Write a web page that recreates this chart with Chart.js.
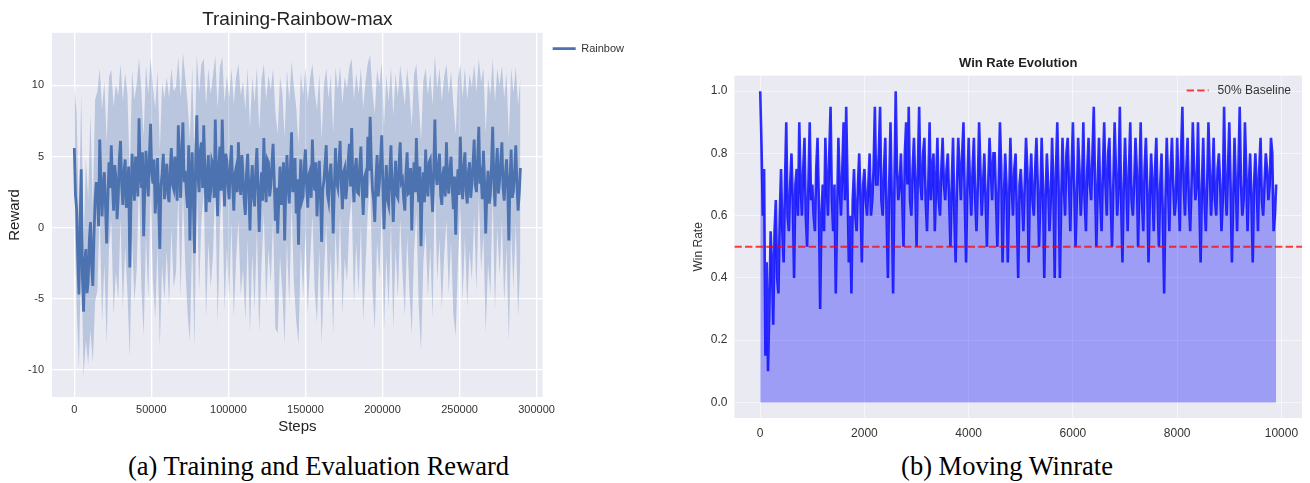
<!DOCTYPE html>
<html>
<head>
<meta charset="utf-8">
<script src="https://cdn.jsdelivr.net/npm/chart.js@4.4.1/dist/chart.umd.min.js"></script>
<style>
  body { margin: 0; background: #fff; width: 1310px; height: 483px; overflow: hidden; position: relative; }
  canvas { position: absolute; top: 0; }
  #rewardChart { left: 0; }
  #winChart { left: 660px; }
  .caption { position: absolute; top: 452px; font-family: 'Liberation Serif', 'Times New Roman', serif; font-size: 26.5px; line-height: 28px; text-align: center; color: #000; white-space: nowrap; }
</style>
</head>
<body>
<canvas id="rewardChart" width="650" height="440"></canvas>
<canvas id="winChart" width="650" height="440"></canvas>
<div class="caption" style="left:0;width:637px;">(a) Training and Evaluation Reward</div>
<div class="caption" style="left:807px;width:400px;">(b) Moving Winrate</div>
<script>
// Reward curve (left): one value every 750 steps
var rewardStepInterval = 750;
var rewardMean = [
    5.6, 2.3, 1.3, -2.2, -4.7, 0.2, 4.1, -3.5, -5.9, -2.4, -1.5, -4.6, -3.8, -0.9, 0.4, -2.7, -4.1, -0.6, 1.9, 3.2,
    2.6, 0.1, 6.2, 3.4, 0.8, 2.9, 3.9, 1.5, -1.1, 2.0, 4.6, 2.8, 5.8, 3.1, 1.2, 4.4, 3.5, 0.6, 2.1, 4.9,
    6.1, 3.0, 1.6, 3.9, 4.8, 1.4, 2.4, 4.3, -2.8, 1.7, 5.2, 3.3, 1.9, 5.0, 3.6, 2.2, 7.7, 4.1, 2.8, 5.3,
    -0.6, 2.7, 5.4, 3.6, 2.2, 5.1, 7.3, 3.9, 3.1, 4.8, 1.0, 2.5, 4.9, 1.6, -1.5, 2.9, 3.8, 5.2, 2.0, 3.4,
    4.5, 2.3, 1.8, 4.2, 5.6, 3.0, 2.7, 5.0, 3.4, 1.9, 7.2, 4.4, 2.1, 5.5, 7.4, 3.2, 4.0, 2.4, 1.4, 5.8,
    -0.9, 3.1, 5.3, 2.0, -1.8, 4.6, 7.9, 3.7, 2.5, 5.4, 6.0, 2.8, 7.2, 4.0, 1.1, 3.6, 5.1, 1.8, 2.6, 4.7,
    4.4, 2.1, 7.6, 3.5, 0.8, 4.3, 5.7, 2.6, 7.6, 4.1, 1.5, 5.2, 4.7, 2.9, 2.0, 4.5, 5.8, 3.0, 1.2, 3.8,
    4.2, 2.5, 6.0, 3.4, 2.3, 5.1, 3.7, 1.9, 0.9, 3.8, 5.2, 2.6, -0.2, 3.1, 4.4, 2.2, 1.5, 4.0, 5.6, 2.7,
    -0.3, 2.4, 3.9, 1.9, 6.3, 3.6, 1.8, 4.8, 4.6, 2.2, 2.9, 4.5, 5.9, 3.3, 0.5, 2.8, -0.4, 2.0, 4.3, 1.6,
    2.5, 4.6, -0.9, 2.7, 5.1, 3.0, 1.7, 4.2, 6.7, 2.5, 3.0, 4.9, 1.0, 3.4, -1.2, 2.6, 4.8, 1.9, 2.2, 4.4,
    5.5, 2.9, 1.4, 3.7, 4.0, 2.1, 6.2, 3.5, 2.6, 4.6, 0.8, 2.9, 4.7, 2.3, -1.0, 2.7, 3.3, 4.5, 5.8, 2.4,
    1.9, 3.8, 4.5, 2.6, -0.4, 2.8, 5.6, 3.2, 2.8, 4.4, 6.1, 3.0, 1.3, 3.9, 4.2, 2.0, 3.0, 4.7, 5.9, 2.9,
    7.0, 3.3, 1.8, 4.1, 4.9, 2.5, 2.4, 4.4, 5.7, 2.8, 0.9, 3.5, 3.8, 2.1, 6.4, 4.0, 7.8, 4.6, 2.7, 1.9,
    0.4, 3.4, 5.1, 2.2, 3.2, 4.8, 6.5, 3.1, -0.1, 2.6, 4.4, 2.0, 1.6, 3.9, 5.8, 2.6, 0.4, 3.0, 4.7, 2.3,
    2.1, 4.5, 6.0, 3.2, 3.4, 2.0, 1.2, 3.9, 5.3, 2.4, 2.5, 4.2, -0.2, 2.9, 4.6, 2.5, 6.3, 3.4, 1.8, 4.3,
    -1.3, 2.6, 3.9, 1.8, 5.5, 3.0, 2.2, 4.6, 4.8, 2.7, 1.1, 4.0, 7.6, 3.7, 3.0, 4.4, 5.2, 2.3, 1.6, 3.8,
    4.3, 2.2, 6.0, 3.3, 2.4, 4.1, 5.0, 2.8, 1.3, 3.6, -0.5, 2.7, 4.1, 2.3, 6.4, 3.5, 2.0, 4.2, 5.3, 2.6,
    1.7, 3.9, 4.6, 2.1, 3.1, 4.5, 6.2, 3.0, 2.5, 4.8, 7.1, 3.1, 3.6, 2.0, 5.4, 3.2, -0.4, 2.5, 4.0, 1.7,
    2.3, 4.4, 7.1, 3.4, 1.5, 4.1, 5.6, 2.4, 3.3, 4.7, 6.0, 2.8, 1.9, 3.7, 4.8, 2.9, -0.9, 3.3, 5.5, 2.1,
    2.6, 4.0, 5.8, 3.1, 1.2, 2.4, 4.2
];
// shaded band: half width around the mean, one value every 1500 steps
var bandStepInterval = 1500;
var rewardSpread = [
    4.4, 6.8, 5.2, 5.3, 4.6, 6.4, 5.8, 7.6, 5.4, 7.1,
    7.0, 5.0, 7.5, 6.4, 7.1, 6.0, 5.3, 7.3, 6.6, 7.2,
    5.4, 7.3, 6.1, 7.0, 6.3, 5.9, 7.1, 6.5, 4.2, 6.9,
    7.0, 6.0, 7.2, 4.6, 6.8, 7.4, 6.2, 6.9, 6.4, 7.1,
    6.1, 7.3, 5.6, 6.9, 6.5, 4.8, 7.0, 4.9, 6.6, 7.4,
    7.1, 6.0, 6.6, 4.3, 7.0, 5.5, 4.7, 7.5, 6.1, 6.8,
    6.3, 4.5, 7.6, 5.6, 4.4, 7.3, 6.0, 7.1, 5.4, 7.5,
    6.4, 5.5, 7.0, 6.6, 7.4, 6.0, 7.2, 6.2, 7.3, 5.7,
    7.1, 6.5, 5.2, 7.2, 6.1, 6.8, 5.3, 7.6, 7.0, 6.3,
    7.0, 7.3, 6.0, 7.2, 5.0, 6.9, 7.5, 7.0, 6.1, 7.1,
    5.8, 7.4, 6.5, 5.3, 7.0, 7.5, 6.1, 7.2, 6.7, 5.4,
    7.2, 6.2, 7.1, 5.7, 6.9, 5.2, 7.4, 6.4, 6.8, 5.4,
    4.9, 7.2, 6.0, 7.0, 5.5, 7.5, 6.5, 5.2, 4.3, 6.9,
    7.6, 6.0, 6.8, 5.1, 7.2, 6.3, 7.3, 5.5, 7.5, 6.1,
    7.1, 5.4, 6.6, 7.4, 5.9, 7.0, 7.3, 6.2, 5.2, 7.2,
    7.4, 6.4, 5.7, 7.1, 6.1, 7.5, 4.5, 6.8, 6.0, 7.3,
    6.3, 5.5, 7.0, 6.0, 7.4, 7.1, 6.4, 5.1, 7.1, 5.9,
    7.3, 6.2, 6.8, 5.3, 7.0, 4.8, 6.6, 5.8, 7.0, 6.5,
    7.0, 4.8, 7.3, 5.6, 6.7, 5.4, 7.2, 6.1, 7.1, 5.7,
    6.9, 5.5, 7.4, 6.4
];
var rewardXTicks = [0, 50000, 100000, 150000, 200000, 250000, 300000];
var rewardYTicks = [-10, -5, 0, 5, 10];

// Moving win rate (right): one value every 25 games
var winStepInterval = 25;
var winRate = [
    1.0, 0.83, 0.6, 0.75, 0.15, 0.45, 0.1, 0.3, 0.55, 0.45, 0.25, 0.55, 0.65, 0.4, 0.35, 0.6, 0.75, 0.55, 0.45, 0.7,
    0.9, 0.6, 0.55, 0.7, 0.8, 0.65, 0.4, 0.7, 0.75, 0.6, 0.9, 0.7, 0.6, 0.75, 0.85, 0.6, 0.5, 0.7, 0.9, 0.65,
    0.7, 0.6, 0.55, 0.75, 0.85, 0.65, 0.3, 0.6, 0.7, 0.55, 0.85, 0.7, 0.6, 0.8, 0.95, 0.65, 0.55, 0.7, 0.35, 0.6,
    0.85, 0.7, 0.6, 0.75, 0.9, 0.65, 0.95, 0.7, 0.45, 0.6, 0.35, 0.65, 0.75, 0.6, 0.55, 0.7, 0.8, 0.65, 0.45, 0.7,
    0.75, 0.65, 0.6, 0.7, 0.8, 0.6, 0.65, 0.75, 0.95, 0.7, 0.7, 0.8, 0.95, 0.65, 0.6, 0.75, 0.85, 0.6, 0.4, 0.7,
    0.9, 0.65, 0.35, 0.7, 1.0, 0.75, 0.65, 0.7, 0.8, 0.65, 0.5, 0.8, 0.9, 0.7, 0.95, 0.65, 0.6, 0.75, 0.85, 0.7,
    0.5, 0.75, 0.95, 0.7, 0.65, 0.8, 0.85, 0.65, 0.55, 0.7, 0.9, 0.65, 0.75, 0.8, 0.55, 0.7, 0.85, 0.65, 0.6, 0.75,
    0.85, 0.7, 0.65, 0.75, 0.8, 0.65, 0.5, 0.7, 0.85, 0.6, 0.45, 0.7, 0.85, 0.75, 0.65, 0.8, 0.9, 0.65, 0.45, 0.7,
    0.85, 0.7, 0.6, 0.75, 0.85, 0.65, 0.55, 0.7, 0.9, 0.75, 0.6, 0.7, 0.8, 0.65, 0.5, 0.7, 0.85, 0.75, 0.65, 0.8,
    0.8, 0.65, 0.5, 0.7, 0.9, 0.75, 0.45, 0.65, 0.8, 0.7, 0.45, 0.65, 0.85, 0.7, 0.6, 0.75, 0.8, 0.6, 0.4, 0.7,
    0.75, 0.65, 0.55, 0.7, 0.85, 0.75, 0.45, 0.7, 0.8, 0.65, 0.6, 0.75, 0.85, 0.7, 0.5, 0.65, 0.85, 0.7, 0.4, 0.65,
    0.8, 0.7, 0.55, 0.65, 0.85, 0.7, 0.4, 0.75, 0.9, 0.7, 0.4, 0.65, 0.85, 0.7, 0.6, 0.8, 0.85, 0.7, 0.55, 0.75,
    0.9, 0.7, 0.5, 0.65, 0.85, 0.75, 0.6, 0.7, 0.9, 0.65, 0.55, 0.75, 0.85, 0.7, 0.65, 0.8, 0.95, 0.7, 0.5, 0.7,
    0.85, 0.65, 0.55, 0.75, 0.9, 0.7, 0.6, 0.8, 0.85, 0.65, 0.5, 0.7, 0.9, 0.75, 0.6, 0.7, 0.95, 0.65, 0.45, 0.7,
    0.85, 0.7, 0.55, 0.75, 0.9, 0.65, 0.6, 0.7, 0.85, 0.75, 0.5, 0.7, 0.9, 0.65, 0.55, 0.75, 0.85, 0.7, 0.45, 0.65,
    0.8, 0.7, 0.55, 0.75, 0.85, 0.65, 0.5, 0.7, 0.8, 0.6, 0.35, 0.65, 0.85, 0.7, 0.55, 0.75, 0.85, 0.7, 0.6, 0.65,
    0.85, 0.7, 0.55, 0.8, 0.95, 0.7, 0.6, 0.75, 0.85, 0.65, 0.55, 0.7, 0.9, 0.75, 0.65, 0.7, 0.9, 0.65, 0.45, 0.7,
    0.85, 0.65, 0.55, 0.7, 0.9, 0.75, 0.6, 0.7, 0.85, 0.65, 0.6, 0.75, 0.8, 0.7, 0.55, 0.65, 0.95, 0.7, 0.6, 0.75,
    0.9, 0.7, 0.45, 0.65, 0.85, 0.7, 0.55, 0.75, 0.95, 0.7, 0.6, 0.65, 0.9, 0.75, 0.55, 0.7, 0.8, 0.65, 0.45, 0.7,
    0.8, 0.7, 0.55, 0.75, 0.85, 0.65, 0.6, 0.7, 0.8, 0.75, 0.65, 0.7, 0.85, 0.8, 0.55, 0.6, 0.7
];
var baselineValue = 0.5;
var winXTicks = [0, 2000, 4000, 6000, 8000, 10000];
var winYTicks = [0, 0.2, 0.4, 0.6, 0.8, 1.0];

Chart.defaults.font.family = "'Liberation Sans', Arial, sans-serif";

// seaborn style grey plot background
var plotBg = {
    id: 'plotBg',
    beforeDraw: function (chart, args, opts) {
        var a = chart.chartArea;
        chart.ctx.save();
        chart.ctx.fillStyle = opts.color;
        chart.ctx.fillRect(a.left, a.top, a.right - a.left, a.bottom - a.top);
        chart.ctx.restore();
    }
};

// legend drawn inside the upper right corner of the plot
var insideLegend = {
    id: 'insideLegend',
    afterDatasetsDraw: function (chart, args, opts) {
        var ctx = chart.ctx, a = chart.chartArea;
        var y = a.top + 15;
        ctx.save();
        ctx.font = '12px ' + Chart.defaults.font.family;
        var tw = ctx.measureText(opts.text).width;
        var tx = a.right - 11 - tw;
        ctx.strokeStyle = opts.color;
        ctx.lineWidth = 2;
        ctx.setLineDash([7.4, 3.2]);
        ctx.beginPath();
        ctx.moveTo(tx - 31, y);
        ctx.lineTo(tx - 9, y);
        ctx.stroke();
        ctx.fillStyle = '#333';
        ctx.textBaseline = 'middle';
        ctx.fillText(opts.text, tx, y);
        ctx.restore();
    }
};

function fixTicks(values) {
    return function (axis) {
        axis.ticks = values.map(function (v) { return { value: v }; });
    };
}

var meanPoints = rewardMean.map(function (m, i) { return { x: i * rewardStepInterval, y: m }; });
// band points sit on every second mean point
var upperPoints = rewardSpread.map(function (s, i) {
    return { x: i * bandStepInterval, y: rewardMean[i * bandStepInterval / rewardStepInterval] + s };
});
var lowerPoints = rewardSpread.map(function (s, i) {
    return { x: i * bandStepInterval, y: rewardMean[i * bandStepInterval / rewardStepInterval] - s };
});

var ctx1 = document.getElementById('rewardChart').getContext('2d');
var rewardChart = new Chart(ctx1, {
    type: 'line',
    data: {
        datasets: [{
            label: 'upper',
            data: upperPoints,
            borderWidth: 0,
            pointRadius: 0,
            fill: '+1',
            backgroundColor: 'rgba(76, 114, 176, 0.3)',
            order: 2
        }, {
            label: 'lower',
            data: lowerPoints,
            borderWidth: 0,
            pointRadius: 0,
            fill: false,
            order: 2
        }, {
            label: 'Rainbow',
            data: meanPoints,
            borderColor: '#4c72b0',
            backgroundColor: '#4c72b0',
            borderWidth: 2.8,
            pointRadius: 0,
            fill: false,
            order: 0
        }]
    },
    options: {
        responsive: false,
        animation: false,
        layout: { padding: { left: 0, right: 16, top: 0, bottom: 3 } },
        scales: {
            x: {
                type: 'linear',
                min: -14475,
                max: 303975,
                afterBuildTicks: fixTicks(rewardXTicks),
                afterFit: function (s) { s.height = 40; },
                grid: { color: '#ffffff', lineWidth: 1.3, drawTicks: false },
                border: { display: false },
                ticks: { padding: 6, color: '#333', font: { size: 11 }, maxRotation: 0, autoSkip: false,
                    callback: function (v) { return String(v); } },
                title: { display: true, text: 'Steps', color: '#222', font: { size: 15 }, padding: { top: 0, bottom: 1 } }
            },
            y: {
                min: -11.9,
                max: 13.7,
                afterBuildTicks: fixTicks(rewardYTicks),
                afterFit: function (s) { s.width = 52; },
                grid: { color: '#ffffff', lineWidth: 1.3, drawTicks: false },
                border: { display: false },
                ticks: { padding: 8, color: '#333', font: { size: 11 },
                    callback: function (v) { return String(v); } },
                title: { display: true, text: 'Reward', color: '#222', font: { size: 15 }, padding: { top: 6, bottom: 0 } }
            }
        },
        plugins: {
            title: { display: true, text: 'Training-Rainbow-max', color: '#222', fullSize: false,
                font: { size: 19, weight: 'normal' }, padding: { top: 8, bottom: 2 } },
            legend: {
                position: 'right',
                align: 'start',
                // empty title only pushes the entry down to the top of the plot
                title: { display: true, text: ' ', font: { size: 1 }, padding: { top: 32, bottom: 0 } },
                labels: {
                    usePointStyle: true,
                    pointStyle: 'line',
                    pointStyleWidth: 23,
                    color: '#333',
                    font: { size: 11 },
                    padding: 10,
                    filter: function (item) { return item.text === 'Rainbow'; }
                }
            },
            tooltip: { enabled: false },
            plotBg: { color: '#eaeaf2' }
        }
    },
    plugins: [plotBg]
});

var winPoints = winRate.map(function (v, i) { return { x: i * winStepInterval, y: v }; });
var baselinePoints = [{ x: -495, y: baselineValue }, { x: 10395, y: baselineValue }];

var ctx2 = document.getElementById('winChart').getContext('2d');
var winChart = new Chart(ctx2, {
    type: 'line',
    data: {
        datasets: [{
            label: 'Win Rate',
            data: winPoints,
            borderColor: 'rgba(0, 0, 255, 0.8)',
            backgroundColor: 'rgba(0, 0, 255, 0.33)',
            borderWidth: 2.6,
            pointRadius: 0,
            fill: 'origin',
            order: 1
        }, {
            label: '50% Baseline',
            data: baselinePoints,
            borderColor: 'rgba(255, 0, 0, 0.75)',
            borderWidth: 2,
            borderDash: [7.4, 3.2],
            pointRadius: 0,
            fill: false,
            order: 0
        }]
    },
    options: {
        responsive: false,
        animation: false,
        layout: { padding: { left: 0, right: 8, top: 0, bottom: 0 } },
        scales: {
            x: {
                type: 'linear',
                min: -495,
                max: 10395,
                afterBuildTicks: fixTicks(winXTicks),
                afterFit: function (s) { s.height = 22; },
                grid: { color: 'rgba(255, 255, 255, 0.55)', lineWidth: 1, drawTicks: false },
                border: { display: false },
                ticks: { padding: 8, color: '#333', font: { size: 12 }, maxRotation: 0, autoSkip: false,
                    callback: function (v) { return String(v); } }
            },
            y: {
                min: -0.05,
                max: 1.05,
                afterBuildTicks: fixTicks(winYTicks),
                afterFit: function (s) { s.width = 74.4; },
                grid: { color: 'rgba(255, 255, 255, 0.55)', lineWidth: 1, drawTicks: false },
                border: { display: false },
                ticks: { padding: 7, color: '#333', font: { size: 12 },
                    callback: function (v) { return v.toFixed(1); } },
                title: { display: true, text: 'Win Rate', color: '#333', font: { size: 12 }, padding: { top: 31, bottom: 0 } }
            }
        },
        plugins: {
            title: { display: true, text: 'Win Rate Evolution', color: '#222', fullSize: false,
                font: { size: 13, weight: 'bold' }, padding: { top: 56, bottom: 4 } },
            legend: { display: false },
            tooltip: { enabled: false },
            plotBg: { color: '#eaeaf2' },
            insideLegend: { text: '50% Baseline', color: 'rgba(255, 0, 0, 0.75)' }
        }
    },
    plugins: [plotBg, insideLegend]
});
</script>
</body>
</html>
